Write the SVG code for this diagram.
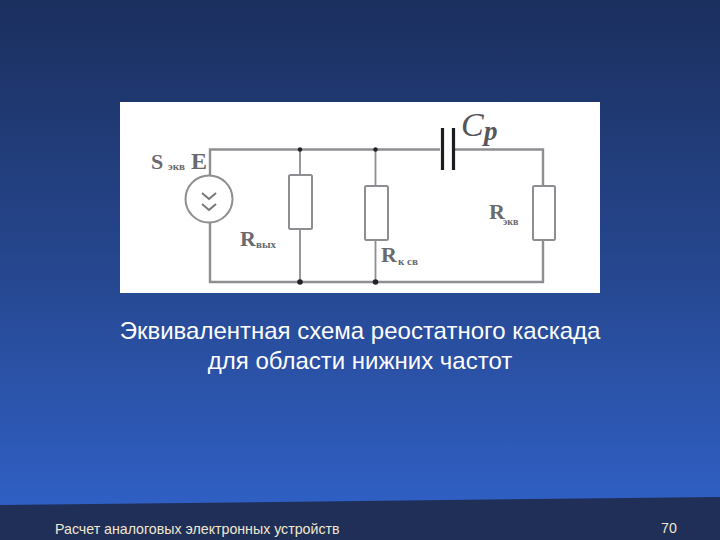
<svg xmlns="http://www.w3.org/2000/svg" width="720" height="540" viewBox="0 0 720 540">
<style>
.w{fill:none;stroke:#8e8e92;stroke-width:1.8}
.h{fill:none;stroke:#8f8f93;stroke-width:2.4}
.b{fill:#fff;stroke:#8e8e92;stroke-width:2}
.d{fill:#222226}
.s{font-family:"Liberation Serif",serif;fill:#6a6a6e;font-weight:bold}
.t{font-family:"Liberation Sans",Arial,sans-serif;fill:#fff;font-size:24px}
.f{font-family:"Liberation Sans",Arial,sans-serif;fill:#f0e8cf;font-size:14.200px}
</style>
<defs><linearGradient id="bg" x1="0" y1="0" x2="0" y2="1"><stop offset="0" stop-color="#1b2f5e"/><stop offset="0.5" stop-color="#26478f"/><stop offset="1" stop-color="#3163cc"/></linearGradient></defs>
<rect width="720" height="540" fill="url(#bg)"/>
<polygon points="0,505 720,497 720,540 0,540" fill="#1f2f58"/>
<rect x="120" y="102" width="480" height="191" fill="#fff"/>
<g id="connectors">
<path class="h" d="M210 176V149.500H440M455 149.500H543V186M210 223V282H543V240"/>
<path class="w" d="M300 149.500V175M300 229V282M375.500 149.500V186M375.500 240V282"/>
</g>
<g id="source"><circle cx="209" cy="199" r="23.500" fill="#fff" stroke="#8e8e92" stroke-width="2"/>
<path d="M202 193l7 6 7-6M202 204l7 6 7-6" fill="none" stroke="#77777b" stroke-width="2"/>
<text class="s" x="151" y="169" font-size="22">S</text><text class="s" x="168" y="170" font-size="11">экв</text><text class="s" x="191" y="169" font-size="24">E</text></g>
<g id="r-vyh"><rect class="b" x="289" y="175" width="23" height="54" rx="1.500"/><circle class="d" cx="300" cy="149.500" r="2.200"/><circle class="d" cx="300" cy="282" r="2.800"/>
<text class="s" x="240" y="246" font-size="22">R</text><text class="s" x="256" y="248" font-size="11">вых</text></g>
<g id="r-k-sv"><rect class="b" x="365" y="186" width="23" height="54" rx="1.500"/><circle class="d" cx="375.500" cy="149.500" r="2.200"/><circle class="d" cx="375.500" cy="282" r="2.800"/>
<text class="s" x="381" y="262" font-size="22">R</text><text class="s" x="398" y="265" font-size="11">к св</text></g>
<g id="cp"><path d="M442.500 128V170M453.500 128V170" stroke="#1c1c20" stroke-width="3.200" fill="none"/>
<text x="461" y="136" font-family="Liberation Serif,serif" font-style="italic" font-size="34" fill="#55555a">C</text><text x="484" y="140" font-family="Liberation Serif,serif" font-style="italic" font-weight="bold" font-size="27" fill="#55555a">p</text></g>
<g id="r-ek"><rect class="b" x="533" y="186" width="22" height="54" rx="1.500"/>
<text class="s" x="489" y="219" font-size="22">R</text><text class="s" x="503" y="225" font-size="10">экв</text></g>
<text class="t" x="360" y="339" text-anchor="middle">Эквивалентная схема реостатного каскада</text>
<text class="t" x="360" y="369" text-anchor="middle">для области нижних частот</text>
<text class="f" x="55" y="534">Расчет аналоговых электронных устройств</text>
<text class="f" x="661" y="533">70</text>
</svg>
